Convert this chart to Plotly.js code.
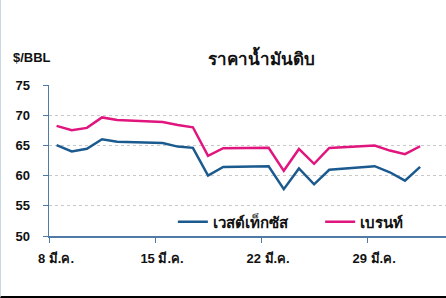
<!DOCTYPE html>
<html>
<head>
<meta charset="utf-8">
<script src="https://cdn.plot.ly/plotly-3.0.1.min.js"></script>
<style>
html,body{margin:0;padding:0;background:#fff;}
#wrap{width:445px;height:296px;border-left:1px solid #c9d6e3;border-bottom:2px solid #000;}
#chart{width:445px;height:296px;}
</style>
</head>
<body>
<div id="wrap"><div id="chart"></div></div>
<script>
const dates = ["2021-03-08","2021-03-09","2021-03-10","2021-03-11","2021-03-12",
  "2021-03-15","2021-03-16","2021-03-17","2021-03-18","2021-03-19",
  "2021-03-22","2021-03-23","2021-03-24","2021-03-25","2021-03-26",
  "2021-03-29","2021-03-30","2021-03-31","2021-04-01"];
const wti = [65.05,64.01,64.44,66.02,65.61,65.39,64.80,64.60,60.00,61.42,61.55,57.76,61.18,58.56,60.97,61.56,60.55,59.16,61.45];
const brent = [68.24,67.52,67.90,69.63,69.22,68.88,68.39,68.00,63.28,64.53,64.62,60.79,64.41,61.95,64.57,64.98,64.14,63.54,64.86];
const seriesNames = ["เวสต์เท็กซัส","เบรนท์"];
const tickDates = ["2021-03-08","2021-03-15","2021-03-22","2021-03-29"];
const tickLabels = ["8 มี.ค.","15 มี.ค.","22 มี.ค.","29 มี.ค."];
const yTicks = [50,55,60,65,70,75];

const FONT = "Arial, 'Liberation Sans', 'Noto Sans', sans-serif";
const common = {x: dates, mode: "lines", xperiod: 86400000, xperiodalignment: "middle", hoverinfo: "skip"};
const data = [
  Object.assign({}, common, {y: wti, name: seriesNames[0], legend: "legend", line: {color: "#1b5a8e", width: 2.5}}),
  Object.assign({}, common, {y: brent, name: seriesNames[1], legend: "legend2", line: {color: "#e0157d", width: 2.5}})
];
const legFont = {family: FONT, size: 15, color: "#111", weight: "bold"};
const layout = {
  width: 445, height: 296,
  margin: {l: 48, r: 0, t: 85, b: 60},
  paper_bgcolor: "#fff", plot_bgcolor: "#fff",
  font: {family: FONT, color: "#111", size: 13},
  showlegend: true,
  legend: {orientation: "h", x: 0.312, y: 0.093, xanchor: "left", yanchor: "middle",
    font: legFont, bgcolor: "rgba(0,0,0,0)"},
  legend2: {orientation: "h", x: 0.683, y: 0.093, xanchor: "left", yanchor: "middle",
    font: legFont, bgcolor: "rgba(0,0,0,0)"},
  xaxis: {type: "date", range: ["2021-03-08 00:00", "2021-04-03 05:00"],
    tickvals: tickDates, ticktext: tickLabels, ticks: "outside", ticklen: 5, tickcolor: "#4f7aa5",
    showline: true, linecolor: "#4f7aa5", linewidth: 1.5, showgrid: false, zeroline: false,
    ticklabelshift: 7, ticklabelstandoff: 5,
    tickfont: {family: FONT, size: 13, color: "#111", weight: "bold"}},
  yaxis: {range: [50, 75], tickvals: yTicks, ticks: "outside", ticklen: 5, tickcolor: "#4f7aa5",
    showline: true, linecolor: "#4f7aa5", linewidth: 1.5, zeroline: false,
    showgrid: true, gridcolor: "#c8c8c8", griddash: "dot", gridwidth: 1,
    ticklabelstandoff: 10,
    tickfont: {family: FONT, size: 13, color: "#111", weight: "bold"}},
  annotations: [
    {text: "ราคาน้ำมันดิบ", xref: "paper", yref: "paper", x: 0.535, y: 1.18, xanchor: "center", yanchor: "middle",
     showarrow: false, font: {family: FONT, size: 17, color: "#111", weight: "bold"}},
    {text: "$/BBL", xref: "paper", yref: "paper", x: -0.095, y: 1.18, xanchor: "left", yanchor: "middle",
     showarrow: false, font: {family: FONT, size: 13, color: "#111", weight: "bold"}}
  ]
};
Plotly.newPlot("chart", data, layout, {staticPlot: true, displayModeBar: false});
</script>
</body>
</html>
